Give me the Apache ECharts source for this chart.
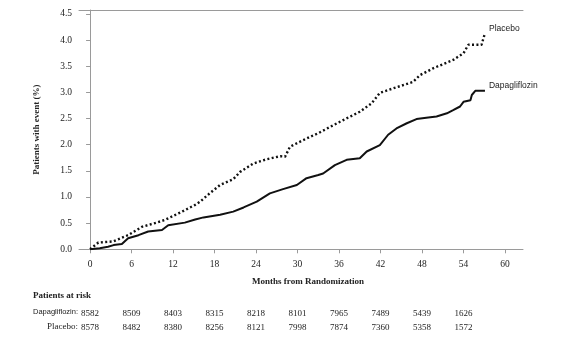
<!DOCTYPE html>
<html><head><meta charset="utf-8">
<script src="https://cdn.jsdelivr.net/npm/echarts@6/dist/echarts.min.js"></script>
<style>html,body{margin:0;padding:0;background:#fff}#c{width:566px;height:346px}</style>
</head><body><div id="c"></div>
<script>
// Data (months, % patients with event)
var placeboMonths = [0,1.2,3.3,5.5,7.5,9.6,10.8,13.3,15.2,15.9,17.3,18.8,20.7,21.7,23.6,25.5,27.5,28.2,28.9,30.4,31.8,33,34.7,36.6,39,40.7,41.9,43.9,46.7,47.7,48.9,49.6,52.5,54,54.7,56.6,57.1];
var placeboValues = [0,0.13,0.15,0.27,0.43,0.51,0.56,0.72,0.85,0.91,1.07,1.23,1.34,1.48,1.64,1.72,1.78,1.77,1.96,2.06,2.15,2.22,2.34,2.47,2.63,2.79,2.99,3.08,3.2,3.33,3.41,3.46,3.62,3.75,3.91,3.91,4.13];
var dapaMonths = [0,1.4,2.6,3.4,4.6,5.5,7,8.4,10.4,11.3,13.7,15.2,16.4,18.8,20.7,22.2,24.1,26,27.9,29.9,31.3,33,33.7,35.4,37.1,39,40,41.9,43.1,44.3,45.8,47.2,48.9,50.1,51.6,52.5,53.5,54,55,55.2,55.7,57.1];
var dapaValues = [0,0.02,0.05,0.08,0.1,0.21,0.27,0.34,0.37,0.46,0.51,0.57,0.61,0.66,0.72,0.8,0.91,1.07,1.15,1.23,1.36,1.42,1.45,1.61,1.71,1.74,1.87,1.99,2.19,2.31,2.41,2.49,2.52,2.54,2.6,2.66,2.73,2.82,2.85,2.95,3.03,3.03];
var xTicks = [0,6,12,18,24,30,36,42,48,54,60];
var yTicks = [0,0.5,1,1.5,2,2.5,3,3.5,4,4.5];
var riskMonths = [0,6,12,18,24,30,36,42,48,54];
var riskDapa = [8582,8509,8403,8315,8218,8101,7965,7489,5439,1626];
var riskPlacebo = [8578,8482,8380,8256,8121,7998,7874,7360,5358,1572];

var serif = '"Liberation Serif","DejaVu Serif",serif';
var sans = '"Liberation Sans",Arial,sans-serif';
var axisColor = '#9a9a9a';
var textColor = '#222';

function zip(a,b){return a.map(function(v,i){return [v,b[i]];});}
function riskAxis(values, offset){
  return {
    type:'value', position:'bottom', min:-1.6, max:62.6, offset:offset,
    axisLine:{show:false}, axisTick:{show:false}, splitLine:{show:false},
    axisLabel:{customValues:riskMonths, margin:4, fontFamily:serif, fontSize:9, color:textColor,
      formatter:function(v){var i=riskMonths.indexOf(v);return i>=0?String(values[i]):'';}}
  };
}

var chart = echarts.init(document.getElementById('c'), null, {renderer:'canvas'});
chart.setOption({
  animation:false,
  backgroundColor:'#fff',
  grid:{left:79, right:43, top:10, bottom:96.7},
  xAxis:[
    {type:'value', min:-1.6, max:62.6, offset:2, position:'bottom',
     axisLine:{show:true, lineStyle:{color:axisColor, width:1}},
     axisTick:{show:true, customValues:xTicks, length:4, lineStyle:{color:axisColor}},
     axisLabel:{customValues:xTicks, margin:8, fontFamily:serif, fontSize:9.5, color:textColor},
     splitLine:{show:false},
     name:'Months from Randomization', nameLocation:'middle', nameGap:26,
     nameTextStyle:{fontFamily:serif, fontWeight:'bold', fontSize:9, color:textColor, padding:[0,0,0,14]}},
    {type:'value', min:-1.6, max:62.6, position:'top',
     axisLine:{show:true, lineStyle:{color:axisColor, width:1}},
     axisTick:{show:false}, axisLabel:{show:false}, splitLine:{show:false}},
    riskAxis(riskDapa, 56),
    riskAxis(riskPlacebo, 70)
  ],
  yAxis:{type:'value', min:0, max:4.575,
     axisLine:{show:true, lineStyle:{color:axisColor, width:1}},
     axisTick:{show:true, customValues:yTicks, length:4, lineStyle:{color:axisColor}},
     axisLabel:{customValues:yTicks, margin:7, fontFamily:serif, fontSize:9.5, color:textColor,
       formatter:function(v){return v.toFixed(1);}},
     splitLine:{show:false},
     name:'Patients with event (%)', nameLocation:'middle', nameGap:38,
     nameTextStyle:{fontFamily:serif, fontWeight:'bold', fontSize:9, color:textColor}},
  series:[
    {name:'Placebo', type:'line', data:zip(placeboMonths, placeboValues), showSymbol:false,
     lineStyle:{color:'#111', width:2.4, type:[2,2.4]},
     endLabel:{show:true, formatter:'Placebo', fontFamily:sans, fontSize:8.5, color:textColor, offset:[0,-5], distance:4}},
    {name:'Dapagliflozin', type:'line', data:zip(dapaMonths, dapaValues), showSymbol:false,
     lineStyle:{color:'#111', width:2},
     endLabel:{show:true, formatter:'Dapagliflozin', fontFamily:sans, fontSize:8.5, color:textColor, offset:[0,-5], distance:4}}
  ],
  graphic:[
    {type:'text', left:33, top:291, style:{text:'Patients at risk', font:'bold 9px '+serif, fill:textColor}},
    {type:'text', right:488, top:308, style:{text:'Dapagliflozin:', font:'7.5px '+sans, fill:textColor}},
    {type:'text', right:488, top:322, style:{text:'Placebo:', font:'9px '+serif, fill:textColor}}
  ]
});
</script></body></html>
